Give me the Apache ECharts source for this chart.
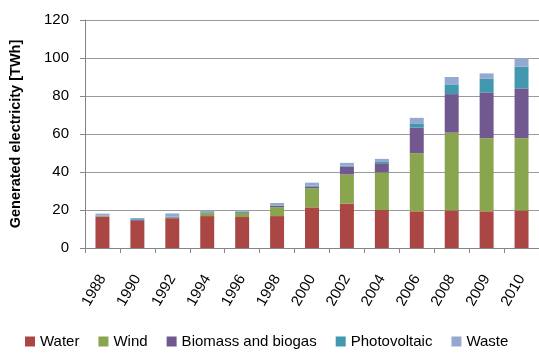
<!DOCTYPE html>
<html>
<head>
<meta charset="utf-8">
<script src="https://cdn.jsdelivr.net/npm/echarts@6/dist/echarts.min.js"></script>
<style>
  html, body { margin: 0; padding: 0; background: #fff; }
  #chart { width: 539px; height: 353px; }
</style>
</head>
<body>
<div id="chart"></div>
<script>
// Renewable electricity generation by source, TWh
const years = ['1988', '1990', '1992', '1994', '1996', '1998', '2000', '2002', '2004', '2006', '2008', '2009', '2010'];
const water        = [16.4, 14.2, 15.7, 16.8, 16.3, 16.8, 21.4, 23.3, 20.0, 19.3, 19.8, 19.3, 19.8];
const wind         = [0.3,  0.1,  0.2,  1.5,  2.1,  4.7,  10.1, 15.4, 19.8, 30.6, 40.9, 38.5, 38.0];
const biomass      = [0.3,  0.5,  0.3,  0.3,  0.4,  0.6,  0.9,  4.2,  4.8,  13.5, 20.3, 24.1, 26.2];
const photovoltaic = [0.1,  0.4,  0.3,  0.3,  0.3,  0.3,  0.4,  0.5,  1.0,  2.2,  5.1,  7.3,  11.5];
const waste        = [1.0,  0.6,  1.7,  0.8,  0.6,  1.3,  1.6,  1.4,  1.3,  2.9,  3.9,  2.7,  4.4];
const yTicks = [0, 20, 40, 60, 80, 100, 120];

const FONT = 'Liberation Sans';
const chart = echarts.init(document.getElementById('chart'), null, { renderer: 'canvas' });

function stackSeries(name, data, color) {
  return {
    name: name,
    type: 'bar',
    stack: 'total',
    data: data,
    barWidth: '40%',
    itemStyle: { color: color },
    emphasis: { disabled: true }
  };
}

chart.setOption({
  animation: false,
  textStyle: { fontFamily: FONT },
  grid: { left: 85, right: 0, top: 20, bottom: 105, containLabel: false },
  legend: {
    bottom: -1,
    left: 20,
    itemWidth: 10,
    itemHeight: 10,
    itemGap: 19,
    icon: 'rect',
    textStyle: { fontFamily: FONT, fontSize: 15, color: '#000' },
    data: ['Water', 'Wind', 'Biomass and biogas', 'Photovoltaic', 'Waste']
  },
  xAxis: {
    type: 'category',
    data: years,
    boundaryGap: true,
    axisLine: { lineStyle: { color: '#868686', width: 1 } },
    axisTick: { show: true, length: 5, lineStyle: { color: '#868686' } },
    axisLabel: { rotate: 60, margin: 28, fontFamily: FONT, fontSize: 15, color: '#000', interval: 0 }
  },
  yAxis: {
    type: 'value',
    min: 0,
    max: 120,
    interval: 20,
    name: 'Generated electricity [TWh]',
    nameLocation: 'middle',
    nameGap: 62,
    nameTextStyle: { fontFamily: FONT, fontSize: 14.5, fontWeight: 'bold', color: '#000' },
    axisLine: { show: true, lineStyle: { color: '#868686', width: 1 } },
    axisTick: { show: true, length: 5, lineStyle: { color: '#868686' } },
    axisLabel: {
      margin: 16, fontFamily: FONT, fontSize: 15, color: '#000',
      formatter: v => (yTicks.indexOf(v) >= 0 ? String(v) : '')
    },
    splitLine: { show: true, lineStyle: { color: '#9a9a9a', width: 1 } }
  },
  series: [
    stackSeries('Water', water, '#AA4643'),
    stackSeries('Wind', wind, '#89A54E'),
    stackSeries('Biomass and biogas', biomass, '#71588F'),
    stackSeries('Photovoltaic', photovoltaic, '#4198AF'),
    stackSeries('Waste', waste, '#93A9CF')
  ]
});
</script>
</body>
</html>
